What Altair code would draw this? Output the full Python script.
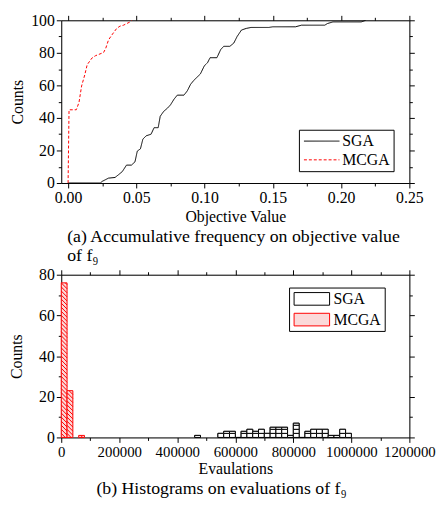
import altair as alt
import pandas as pd

# ---------------- data: (a) cumulative counts vs objective value ----------------
sga_x = [0.0, 0.0236, 0.025, 0.0296, 0.0344, 0.0368, 0.0397, 0.0428, 0.0464, 0.049, 0.0507,
         0.053, 0.0548, 0.0572, 0.0608, 0.063, 0.066, 0.0675, 0.07, 0.0728, 0.075, 0.0776,
         0.08, 0.0849, 0.0873, 0.0897, 0.092, 0.0969, 0.0998, 0.1022, 0.104, 0.109, 0.1118,
         0.114, 0.1185, 0.1214, 0.1238, 0.127, 0.1305, 0.134, 0.147, 0.15, 0.1666, 0.171,
         0.188, 0.19, 0.194, 0.2147, 0.218]
sga_y = [0, 0, 1, 3, 3.4, 5, 7, 11, 11, 13, 19.6,
         21, 27, 29, 30, 34, 34, 41, 44, 46, 48, 51.5,
         54, 54, 56.6, 60.6, 63, 67, 72, 74, 77, 77, 82,
         84, 84, 86, 90, 94, 95, 95.6, 95.6, 96, 96, 97,
         97, 98, 99, 99, 100]
mcga_x = [0.0, 0.0007, 0.006, 0.008, 0.0099, 0.0123, 0.014, 0.0175, 0.02, 0.026, 0.0276,
          0.0296, 0.032, 0.0356, 0.038, 0.0406, 0.043, 0.0454, 0.0466]
mcga_y = [0, 45, 45, 49.5, 59.6, 66.7, 72.7, 76.8, 78.2, 80.2, 82.8,
          87.9, 90.9, 95, 96.4, 97, 98, 99, 100]

# ---------------- data: (b) histograms of evaluations (bin width 20000) ----------------
bin_width = 20000
sga_bins = [23, 27, 28, 29, 30, 31, 32, 33, 34, 35, 36, 37, 38, 39, 40, 41, 42, 43, 44, 45, 46, 47, 48, 49]
sga_counts = [1, 2, 3, 3, 0, 3, 4, 3, 4, 2, 5, 5, 5, 1, 7, 0, 3, 4, 4, 4, 1, 1, 4, 2]
mcga_bins = [0, 1, 3]
mcga_counts = [76, 23, 1]

series = ["SGA", "MCGA"]
FONT = "Liberation Serif"
HATCH = 2        # counts per hatch box for the SGA bars
DIAG_STEP = 2.0  # counts between the diagonal hatch lines of the MCGA bars
DIAG_DROP = 2.9  # counts dropped across one bin width (about 45 degrees)

# ---------------- tables ----------------
cum = pd.DataFrame({
    "value": sga_x + mcga_x,
    "count": sga_y + mcga_y,
    "series": ["SGA"] * len(sga_x) + ["MCGA"] * len(mcga_x),
})
hist = pd.DataFrame({
    "start": [b * bin_width for b in sga_bins] + [b * bin_width for b in mcga_bins],
    "end": [(b + 1) * bin_width for b in sga_bins] + [(b + 1) * bin_width for b in mcga_bins],
    "count": sga_counts + mcga_counts,
    "method": ["SGA"] * len(sga_bins) + ["MCGA"] * len(mcga_bins),
})

# horizontal hatch boxes for SGA (each bar split into stacked boxes)
seg_rows = []
for b, c in zip(sga_bins, sga_counts):
    lo = 0
    while lo < c:
        hi = min(lo + HATCH, c)
        seg_rows.append({"start": b * bin_width, "end": (b + 1) * bin_width, "lo": lo, "hi": hi})
        lo = hi
segs = pd.DataFrame(seg_rows)

# diagonal hatch lines for MCGA, clipped to each bar
diag_rows = []
for b, c in zip(mcga_bins, mcga_counts):
    x0, x1 = b * bin_width, (b + 1) * bin_width
    a = DIAG_STEP
    while a < c + DIAG_DROP:
        t0 = max(0.0, (a - c) / DIAG_DROP)
        t1 = min(1.0, a / DIAG_DROP)
        if t1 > t0:
            diag_rows.append({"xa": x0 + t0 * (x1 - x0), "ya": a - DIAG_DROP * t0,
                              "xb": x0 + t1 * (x1 - x0), "yb": a - DIAG_DROP * t1})
        a += DIAG_STEP
diags = pd.DataFrame(diag_rows)


def tick_size(test):
    return {"condition": {"test": test, "value": 5}, "value": 3}


def axis_common(**kw):
    base = dict(grid=False, domainColor="black", tickColor="black", labelColor="black",
                titleColor="black", labelFont=FONT, titleFont=FONT, labelFontSize=16,
                titleFontSize=16, titleFontWeight="normal", tickWidth=1, domainWidth=1,
                labelPadding=2, labelOverlap=False, labelFlush=False)
    base.update(kw)
    return alt.Axis(**base)


# ---------------- panel (a) ----------------
xa_vals = [round(i * 0.025, 3) for i in range(0, 11)]
xa_major = "abs(datum.value*20 - round(datum.value*20)) < 0.001"
ya_vals = list(range(0, 101, 10))
ya_major = "datum.value % 20 == 0"

xa_scale = alt.Scale(domain=[-0.005, 0.25], nice=False)
ya_scale = alt.Scale(domain=[0, 100], nice=False)

line_legend = alt.Legend(orient="none", legendX=241, legendY=111, title=None,
                         strokeColor="black", fillColor="white", padding=3,
                         symbolType="M-0.8,0H3.7", symbolSize=256, symbolStrokeWidth=1,
                         labelFont=FONT, labelFontSize=16, labelColor="black",
                         rowPadding=2, labelOffset=24)

lines = alt.Chart(cum).mark_line(strokeWidth=1, clip=True).encode(
    x=alt.X("value:Q", scale=xa_scale,
            axis=axis_common(values=xa_vals, title="Objective Value",
                             labelExpr=f"{xa_major} ? format(datum.value, '.2f') : ''",
                             tickSize=tick_size(xa_major), titlePadding=3)),
    y=alt.Y("count:Q", scale=ya_scale,
            axis=axis_common(values=ya_vals, title="Counts",
                             labelExpr=f"{ya_major} ? datum.label : ''",
                             tickSize=tick_size(ya_major), titlePadding=5)),
    color=alt.Color("series:N", scale=alt.Scale(domain=series, range=["black", "red"]),
                    legend=line_legend),
    strokeDash=alt.StrokeDash("series:N", scale=alt.Scale(domain=series, range=[[1, 0], [3, 2]]),
                              legend=line_legend),
    detail="series:N",
)

mirror_a = alt.Chart(cum).mark_point(opacity=0).encode(
    x=alt.X("value:Q", scale=xa_scale,
            axis=axis_common(values=xa_vals, orient="top", labels=False, title=None,
                             tickSize=tick_size(xa_major))),
    y=alt.Y("count:Q", scale=ya_scale,
            axis=axis_common(values=ya_vals, orient="right", labels=False, title=None,
                             tickSize=tick_size(ya_major))),
)

panel_a = alt.layer(lines, mirror_a).resolve_axis(x="independent", y="independent").properties(
    width=353, height=165,
    title=alt.TitleParams(["(a) Accumulative frequency on objective value", "of f\u2089"],
                          orient="bottom", anchor="start", frame="group", font=FONT,
                          fontSize=18, fontWeight="normal", color="black", lineHeight=19,
                          offset=4, dx=6),
)

# ---------------- panel (b) ----------------
xb_vals = list(range(0, 1200001, 100000))
xb_major = "datum.value % 200000 == 0"
yb_vals = list(range(0, 81, 10))
yb_major = "datum.value % 20 == 0"

xb_scale = alt.Scale(domain=[0, 1200000], nice=False)
yb_scale = alt.Scale(domain=[0, 80], nice=False)

bar_legend = alt.Legend(orient="none", legendX=231, legendY=13, title=None,
                        strokeColor="black", fillColor="white", padding=3,
                        symbolType="M-0.8,-0.8H3.7V0.8H-0.8Z", symbolSize=256,
                        symbolStrokeWidth=1,
                        labelFont=FONT, labelFontSize=16, labelColor="black",
                        rowPadding=4, labelOffset=25)

bars = alt.Chart(hist).mark_bar(strokeWidth=1).encode(
    x=alt.X("start:Q", scale=xb_scale,
            axis=axis_common(values=xb_vals, title="Evaulations", labelFontSize=15,
                             labelExpr=f"{xb_major} ? datum.value : ''",
                             tickSize=tick_size(xb_major), titlePadding=2)),
    x2="end:Q",
    y=alt.Y("count:Q", scale=yb_scale,
            axis=axis_common(values=yb_vals, title="Counts",
                             labelExpr=f"{yb_major} ? datum.label : ''",
                             tickSize=tick_size(yb_major), titlePadding=14)),
    y2=alt.datum(0),
    fill=alt.Fill("method:N", scale=alt.Scale(domain=series, range=["white", "#fbd9d9"]),
                  legend=bar_legend),
    stroke=alt.Stroke("method:N", scale=alt.Scale(domain=series, range=["black", "red"]),
                      legend=bar_legend),
)

hatch = alt.Chart(segs).mark_bar(fill="white", stroke="black", strokeWidth=1).encode(
    x=alt.X("start:Q", scale=xb_scale, axis=None),
    x2="end:Q",
    y=alt.Y("lo:Q", scale=yb_scale, axis=None),
    y2="hi:Q",
)

diag = alt.Chart(diags).mark_rule(color="red", strokeWidth=1).encode(
    x=alt.X("xa:Q", scale=xb_scale, axis=None),
    x2="xb:Q",
    y=alt.Y("ya:Q", scale=yb_scale, axis=None),
    y2="yb:Q",
)

mirror_b = alt.Chart(hist).mark_point(opacity=0).encode(
    x=alt.X("start:Q", scale=xb_scale,
            axis=axis_common(values=xb_vals, orient="top", labels=False, title=None,
                             tickSize=tick_size(xb_major))),
    y=alt.Y("count:Q", scale=yb_scale,
            axis=axis_common(values=yb_vals, orient="right", labels=False, title=None,
                             tickSize=tick_size(yb_major))),
)

panel_b = alt.layer(bars, hatch, diag, mirror_b).resolve_axis(x="independent", y="independent").properties(
    width=353, height=165,
    title=alt.TitleParams("(b) Histograms on evaluations of f\u2089",
                          orient="bottom", anchor="middle", frame="group", font=FONT,
                          fontSize=18, fontWeight="normal", color="black",
                          offset=3, dx=-14),
)

chart = alt.vconcat(panel_a, panel_b, spacing=0).resolve_scale(
    color="independent", strokeDash="independent", fill="independent", stroke="independent"
).resolve_legend(
    color="independent", strokeDash="independent", fill="independent", stroke="independent"
).configure_view(
    stroke="black", strokeWidth=1
).configure(padding={"left": 0, "top": 0, "right": 0, "bottom": 0}, background="white")

chart.save("out.html", embed_options={"renderer": "svg", "actions": False})
